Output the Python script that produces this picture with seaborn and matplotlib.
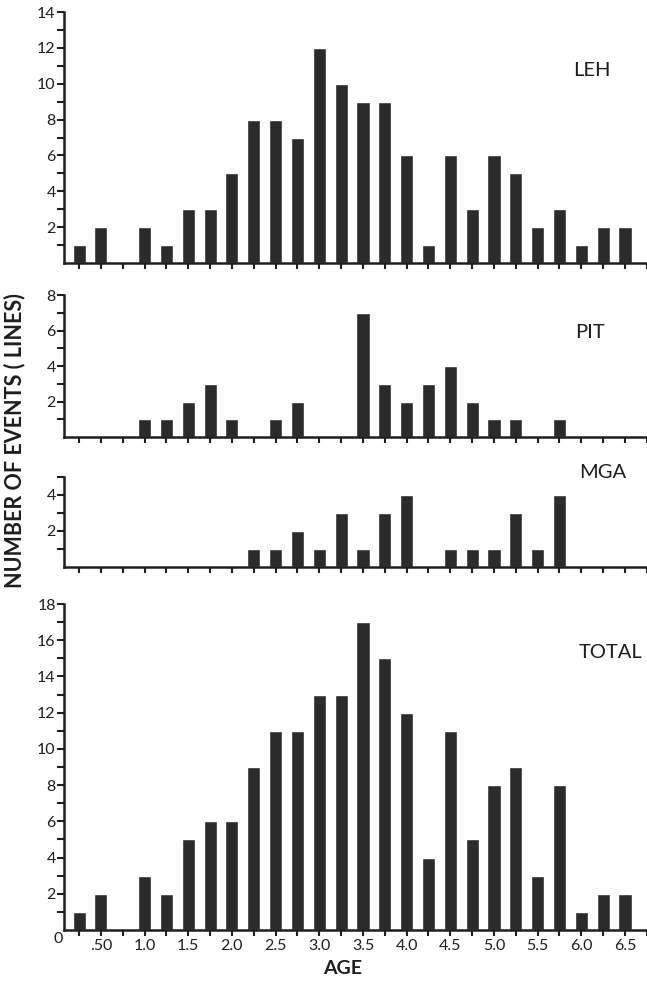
import numpy as np
import pandas as pd
import seaborn as sns
import matplotlib.pyplot as plt
from matplotlib.ticker import FixedLocator

# age bins (years), 0.25 wide
ages = [0.25, 0.5, 0.75, 1.0, 1.25, 1.5, 1.75, 2.0, 2.25, 2.5, 2.75, 3.0, 3.25,
        3.5, 3.75, 4.0, 4.25, 4.5, 4.75, 5.0, 5.25, 5.5, 5.75, 6.0, 6.25, 6.5]

leh = [1, 2, 0, 2, 1, 3, 3, 5, 8, 8, 7, 12, 10, 9, 9, 6, 1, 6, 3, 6, 5, 2, 3, 1, 2, 2]
pit = [0, 0, 0, 1, 1, 2, 3, 1, 0, 1, 2, 0, 0, 7, 3, 2, 3, 4, 2, 1, 1, 0, 1, 0, 0, 0]
mga = [0, 0, 0, 0, 0, 0, 0, 0, 1, 1, 2, 1, 3, 1, 3, 4, 0, 1, 1, 1, 3, 1, 4, 0, 0, 0]
total = [1, 2, 0, 3, 2, 5, 6, 6, 9, 11, 11, 13, 13, 17, 15, 12, 4, 11, 5, 8, 9, 3, 8, 1, 2, 2]

panels = ["LEH", "PIT", "MGA", "TOTAL"]
series = [leh, pit, mga, total]
ymax = [14, 8, 5, 18]

xtick_pos = [0.5, 1.0, 1.5, 2.0, 2.5, 3.0, 3.5, 4.0, 4.5, 5.0, 5.5, 6.0, 6.5]
xtick_lab = [".50", "1.0", "1.5", "2.0", "2.5", "3.0", "3.5", "4.0", "4.5", "5.0", "5.5", "6.0", "6.5"]

sns.set_style("white")
plt.rcParams["font.family"] = ["Lato", "DejaVu Sans"]
ink = "#1e1e1e"
bar_col = "#2b2b2b"

fig = plt.figure(figsize=(6.47, 9.85), dpi=100)

# axes boxes in figure fractions: left, bottom, width, height
boxes = [
    [0.099, 0.733, 0.901, 0.2548],
    [0.099, 0.5563, 0.901, 0.1442],
    [0.099, 0.4244, 0.901, 0.0914],
    [0.099, 0.0558, 0.901, 0.331],
]
label_pos = [(592, 70), (590, 332), (603, 472), (611, 652)]

for name, vals, top, box, (lx, ly) in zip(panels, series, ymax, boxes, label_pos):
    ax = fig.add_axes(box)
    df = pd.DataFrame({"age": ages, "n": vals})
    sns.barplot(data=df, x="age", y="n", native_scale=True, color=bar_col,
                saturation=1, width=0.6, ax=ax)
    ax.set_xlim(0.078, 6.752)
    ax.set_ylim(0, top)
    sns.despine(ax=ax)
    for s in ["left", "bottom"]:
        ax.spines[s].set_linewidth(1.8)
        ax.spines[s].set_color(ink)

    ax.set_yticks(list(range(2, top + 1, 2)))
    ax.yaxis.set_minor_locator(FixedLocator(list(range(1, top + 1, 2))))
    ax.tick_params(axis="y", which="both", direction="out", length=5, width=1.5,
                   color=ink, labelsize=11.5, labelcolor=ink, pad=1, left=True)

    xt = [a for a in ages] + [6.75]
    ax.set_xticks(xt)
    if name == "TOTAL":
        ax.set_xticklabels([xtick_lab[xtick_pos.index(a)] if a in xtick_pos else "" for a in xt])
    else:
        ax.set_xticklabels([])
    ax.tick_params(axis="x", direction="out", length=4.5, width=1.5, color=ink,
                   labelsize=11.5, labelcolor=ink, pad=2, bottom=True)
    ax.set_xlabel("")
    ax.set_ylabel("")

    fig.text(lx / 647, 1 - ly / 985, name, ha="center", va="center",
             fontsize=14.5, color=ink)

fig.text(58 / 647, 1 - 939 / 985, "0", ha="center", va="center", fontsize=11.5, color=ink)
fig.text(15 / 647, 1 - 441 / 985, "NUMBER OF EVENTS ( LINES)", rotation=90,
         ha="center", va="center", fontsize=15.5, fontweight="bold", color=ink)
fig.text(343 / 647, 1 - 968 / 985, "AGE", ha="center", va="center",
         fontsize=14, fontweight="bold", color=ink)

fig.savefig("out.png", dpi=100, facecolor="white")
